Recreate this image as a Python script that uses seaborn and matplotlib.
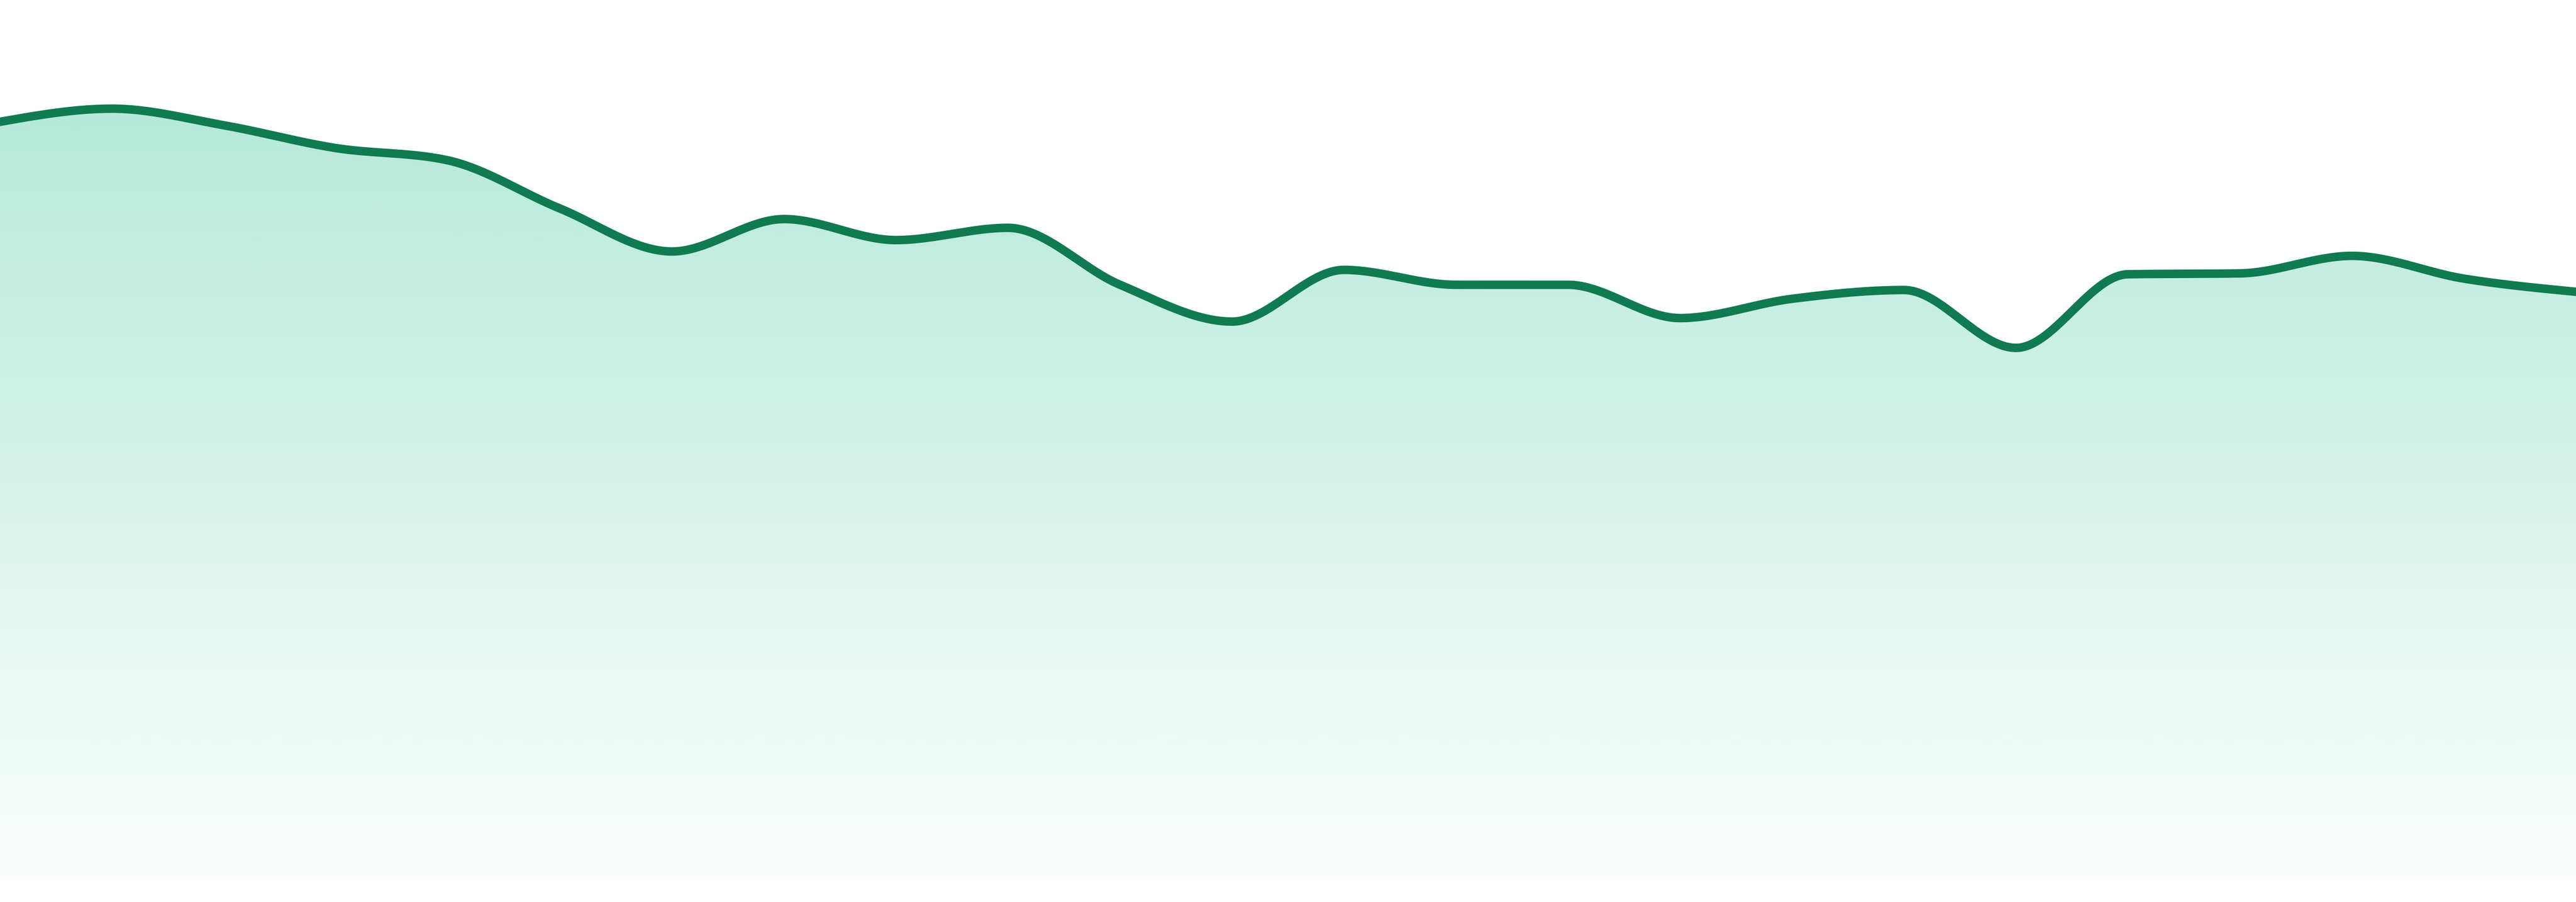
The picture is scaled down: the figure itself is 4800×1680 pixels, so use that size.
import numpy as np
import matplotlib
matplotlib.use("Agg")
import matplotlib.pyplot as plt
import seaborn as sns

# valores (24 pontos igualmente espaçados)
idx = list(range(24))
valores = [86.1, 87.6, 85.7, 83.1, 81.7, 76.2, 71.3, 75.0, 72.6, 74.0,
           67.5, 63.3, 69.2, 67.5, 67.5, 63.7, 65.9, 66.9, 60.3, 68.7,
           68.8, 70.8, 68.2, 66.7]

cor_linha = "#107a50"
cor_area = (16 / 255, 185 / 255, 129 / 255)


# curva monotona (mesma ideia do curveMonotoneX do d3)
def tangentes(x, y):
    x = np.asarray(x, float)
    y = np.asarray(y, float)
    n = len(x)
    t = np.zeros(n)
    for i in range(1, n - 1):
        h0 = x[i] - x[i - 1]
        h1 = x[i + 1] - x[i]
        s0 = (y[i] - y[i - 1]) / h0
        s1 = (y[i + 1] - y[i]) / h1
        p = (s0 * h1 + s1 * h0) / (h0 + h1)
        t[i] = (np.sign(s0) + np.sign(s1)) * min(abs(s0), abs(s1), 0.5 * abs(p))
    h = x[1] - x[0]
    t[0] = (3 * (y[1] - y[0]) / h - t[1]) / 2
    h = x[-1] - x[-2]
    t[-1] = (3 * (y[-1] - y[-2]) / h - t[-2]) / 2
    return t


def curva_suave(x, y, passos=60):
    x = np.asarray(x, float)
    y = np.asarray(y, float)
    t = tangentes(x, y)
    xs, ys = [], []
    for i in range(len(x) - 1):
        h = x[i + 1] - x[i]
        u = np.linspace(0, 1, passos, endpoint=(i == len(x) - 2))
        h00 = 2 * u**3 - 3 * u**2 + 1
        h10 = u**3 - 2 * u**2 + u
        h01 = -2 * u**3 + 3 * u**2
        h11 = u**3 - u**2
        xs.append(x[i] + u * h)
        ys.append(h00 * y[i] + h10 * h * t[i] + h01 * y[i + 1] + h11 * h * t[i + 1])
    return np.concatenate(xs), np.concatenate(ys)


xs, ys = curva_suave(idx, valores)

sns.set_style("white")
fig = plt.figure(figsize=(16, 5.6), dpi=300)
ax = fig.add_axes([0, 48 / 1680, 1, 1 - 48 / 1680])
ax.set_xlim(idx[0], idx[-1])
ax.set_ylim(0, 100)

# area com gradiente vertical
area = ax.fill_between(xs, ys, 0, facecolor="none", edgecolor="none")
alfa = np.linspace(0.02, 0.35, 256)[:, None]
grad = np.zeros((256, 1, 4))
grad[..., 0] = cor_area[0]
grad[..., 1] = cor_area[1]
grad[..., 2] = cor_area[2]
grad[..., 3] = alfa
img = ax.imshow(grad, extent=[idx[0], idx[-1], 0, 100], origin="lower",
                aspect="auto", interpolation="bilinear", zorder=1)
img.set_clip_path(area.get_paths()[0], transform=ax.transData)

sns.lineplot(x=xs, y=ys, ax=ax, color=cor_linha, linewidth=3.8, zorder=3,
             sort=False, estimator=None)

ax.set_axis_off()
plt.savefig("out.png", dpi=300)
